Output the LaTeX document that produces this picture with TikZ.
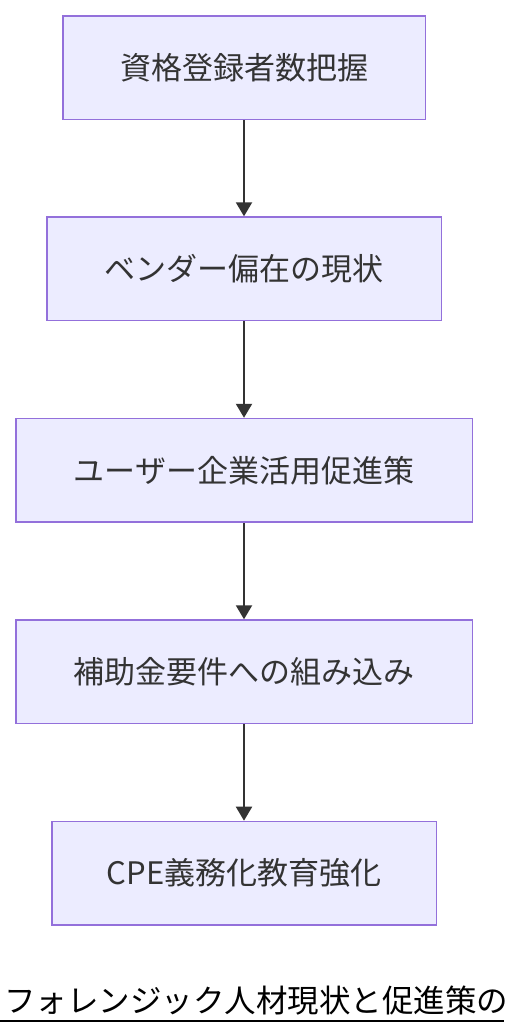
\documentclass[tikz,border=0pt]{standalone}
\usepackage{fontspec}
\setmainfont{Noto Sans CJK JP}
\usetikzlibrary{arrows.meta}
\definecolor{boxfill}{HTML}{ECECFF}
\definecolor{boxdraw}{HTML}{9370DB}
\definecolor{ink}{HTML}{333333}
\begin{document}
\begin{tikzpicture}[x=1pt,y=-1pt,
  box/.style={draw=boxdraw, fill=boxfill, line width=1.5pt, minimum height=103.5pt,
    text=ink, font=\fontsize{31}{36}\selectfont, inner sep=0pt, anchor=center},
  conn/.style={draw=ink, line width=2pt, -{Triangle[length=14pt,width=16pt]}},
  titletext/.style={anchor=base west, inner sep=0pt, text=black, font=\fontsize{31.5}{36}\selectfont}]
\useasboundingbox (0,0) rectangle (504,1036);
\fill[white] (0,0) rectangle (504,1036);
\node[box, minimum width=362.5pt] (a) at (244,67.5) {資格登録者数把握};
\node[box, minimum width=394.5pt] (b) at (244,268.8) {ベンダー偏在の現状};
\node[box, minimum width=456.5pt] (c) at (244,470.3) {ユーザー企業活用促進策};
\node[box, minimum width=456.5pt] (d) at (244,671.8) {補助金要件への組み込み};
\node[box, minimum width=384.5pt] (e) at (244,873.2) {CPE義務化教育強化};
\draw[conn] (a) -- (b);
\draw[conn] (b) -- (c);
\draw[conn] (c) -- (d);
\draw[conn] (d) -- (e);
\node[titletext] (title) at (4,1012) {フォレンジック人材現状と促進策の};
\coordinate (ul1) at (0,1021);
\coordinate (ul2) at (504,1021);
\draw[black, line width=2.5pt] (ul1) -- (ul2);
\end{tikzpicture}
\end{document}
